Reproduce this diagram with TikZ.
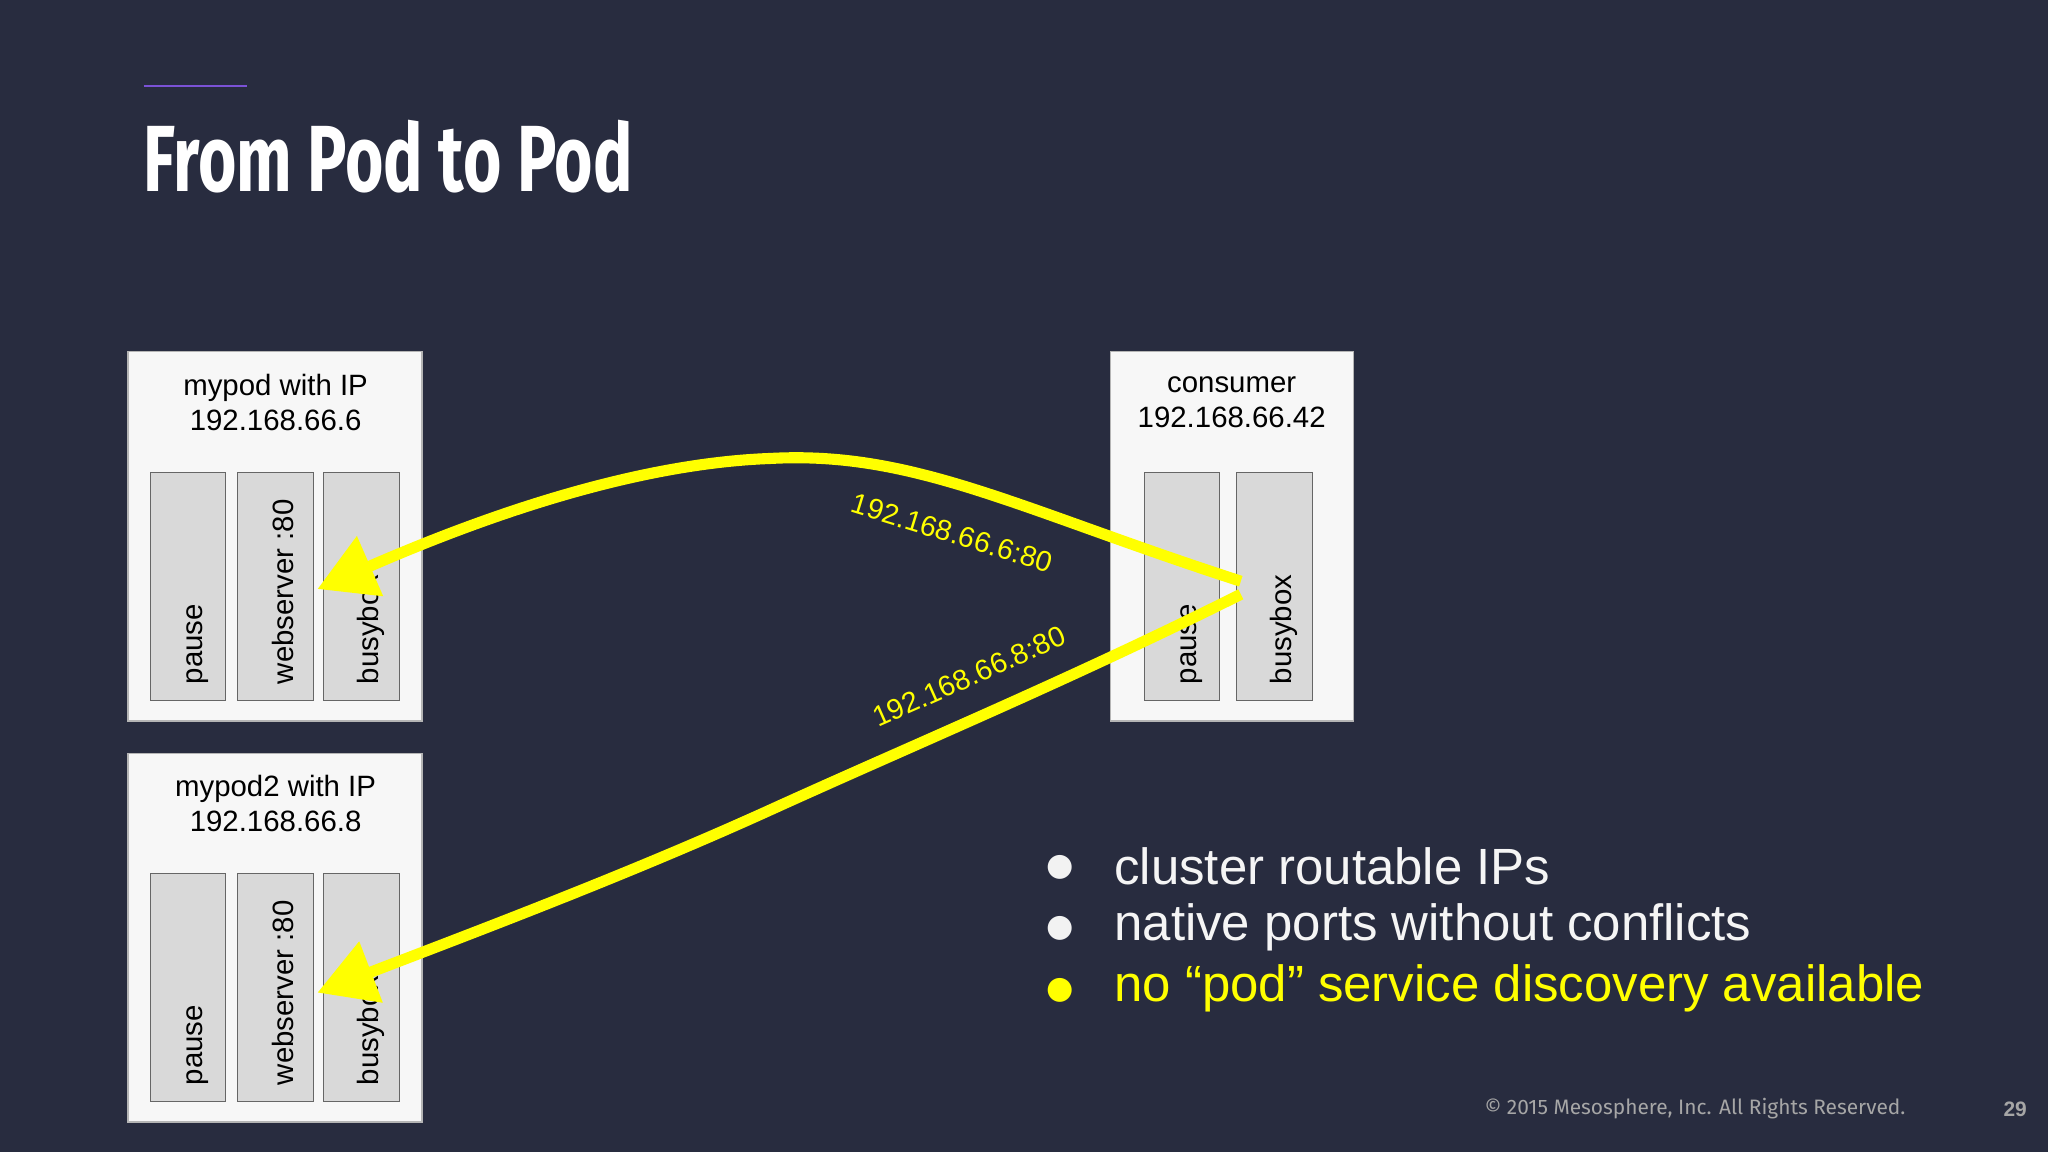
\documentclass[tikz,border=0pt]{standalone}
\usepackage{fontspec}
\setmainfont{Liberation Sans}
\newfontfamily\titlefont{Fira Sans}
\newfontfamily\dejavu{DejaVu Sans}
\usetikzlibrary{arrows.meta}
\definecolor{bg}{HTML}{282C3F}
\definecolor{boxfill}{HTML}{F7F7F7}
\definecolor{colfill}{HTML}{D9D9D9}
\definecolor{ylw}{HTML}{FFFF00}
\definecolor{purp}{HTML}{7B52D6}
\begin{document}
\begin{tikzpicture}[x=1pt,y=-1pt,
  pod/.style={draw=colfill!60!gray,fill=boxfill,line width=1pt},
  col/.style={draw=gray!80!black,fill=colfill,line width=0.8pt},
  coltext/.style={rotate=90,anchor=west,font=\fontsize{22.5}{24}\selectfont,text=black,inner sep=0pt},
  podtext/.style={align=center,font=\fontsize{22.5}{27}\selectfont,text=black},
  bul/.style={anchor=west,font=\fontsize{39}{40}\selectfont,inner sep=0pt},
  dot/.style={anchor=center,font=\dejavu\fontsize{24}{26}\selectfont,inner sep=0pt},
  arr/.style={ylw,line width=8.5pt,-{Triangle[length=44pt,width=48pt]}},
  iplab/.style={ylw,font=\fontsize{22}{24}\selectfont}]
\fill[bg] (0,0) rectangle (1568,882);
\useasboundingbox (0,0) rectangle (1568,882);
\draw[purp,line width=1.5pt] (110,66) -- (189,66);
\node[anchor=base west,inner sep=0pt,text=white] (title) at (110,147)
  {\scalebox{0.70}[1]{\titlefont\fontseries{sb}\selectfont\fontsize{72}{76}\selectfont From Pod to Pod}};
% mypod
\draw[pod] (98,269) rectangle (323,552);
\node[podtext] (t1) at (211,308) {mypod with IP\\192.168.66.6};
\draw[col] (115,362) rectangle (173,536);
\draw[col] (182,362) rectangle (240,536);
\draw[col] (248,362) rectangle (306,536);
\node[coltext] (p1) at (151,524) {pause};
\node[coltext] (w1) at (217,524) {webserver :80};
\node[coltext] (b1) at (284,524) {busybox};
\coordinate (tgt1) at (243,451);
% mypod2
\draw[pod] (98,577) rectangle (323,859);
\node[podtext] (t2) at (211,615) {mypod2 with IP\\192.168.66.8};
\draw[col] (115,669) rectangle (173,843);
\draw[col] (182,669) rectangle (240,843);
\draw[col] (248,669) rectangle (306,843);
\node[coltext] (p2) at (151,831) {pause};
\node[coltext] (w2) at (217,831) {webserver :80};
\node[coltext] (b2) at (284,831) {busybox};
\coordinate (tgt2) at (243,760);
% consumer
\draw[pod] (850,269) rectangle (1036,552);
\node[podtext] (t3) at (943,308) {consumer\\192.168.66.42};
\draw[col] (876,362) rectangle (934,536);
\draw[col] (947,362) rectangle (1005,536);
\node[coltext] (p3) at (912,524) {pause};
\node[coltext] (b3) at (983,524) {busybox};
\coordinate (src1) at (950,445);
\coordinate (src2) at (950,455);
% arrows
\draw[arr] (src1) .. controls (780,390) and (700,345) .. (590,351)
  .. controls (480,355) and (360,400) .. (tgt1);
\draw[arr] (src2) .. controls (820,520) and (700,570) .. (590,620)
  .. controls (480,670) and (360,715) .. (tgt2);
\node[iplab,rotate=-17] (l1) at (729,408) {192.168.66.6:80};
\node[iplab,rotate=24] (l2) at (742,518) {192.168.66.8:80};
% bullets
\node[dot,text=white!90!gray] (c1) at (812,664) {●};
\node[dot,text=white!90!gray] (c2) at (812,711) {●};
\node[dot,text=ylw] (c3) at (812,758) {●};
\node[bul,text=white!92!gray] (s1) at (853,663) {cluster routable IPs};
\node[bul,text=white!92!gray] (s2) at (853,710) {native ports without conflicts};
\node[bul,text=ylw] (s3) at (853,757) {no “pod” service discovery available};
% footer
\node[anchor=east,text=gray!70,font=\fontsize{16}{18}\selectfont,inner sep=0pt] (ft) at (1459,849) {\fontspec{Fira Sans}© 2015 Mesosphere, Inc. All Rights Reserved.};
\node[anchor=east,text=gray!70,font=\fontsize{16}{18}\selectfont\bfseries,inner sep=0pt] (pg) at (1552,849) {29};
\end{tikzpicture}
\end{document}
